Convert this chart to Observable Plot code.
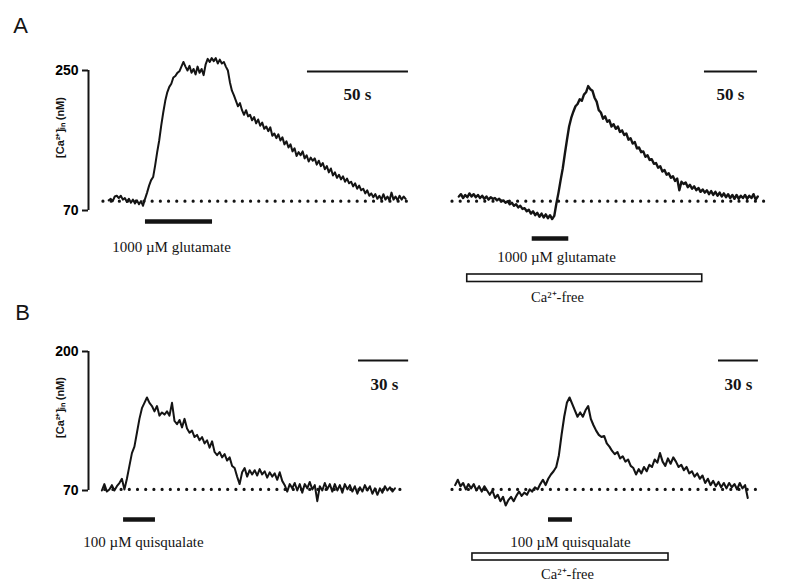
<!DOCTYPE html>
<html>
<head>
<meta charset="utf-8">
<script src="https://cdn.jsdelivr.net/npm/d3@7"></script>
<script src="https://cdn.jsdelivr.net/npm/@observablehq/plot@0.6"></script>
<style>
  html, body { margin: 0; padding: 0; background: #fff; }
  #fig { position: relative; width: 808px; height: 584px; overflow: hidden; background: #fff; }
  #fig svg { position: absolute; left: 0; top: 0; }
</style>
</head>
<body>
<div id="fig"></div>
<script>
// ---------- DATA ----------
// [Ca2+]in traces in nM, sampled from the first point every `step` seconds
const glutamateControl = [
  83,85,82,88,89,86,89,84,86,81,85,80,84,79,83,78,
  82,76,85,93,102,109,113,128,145,160,179,196,211,222,229,233,241,243,247,
  249,255,261,255,250,256,247,252,245,255,247,252,244,258,265,261,266,262,266,259,264,259,261,255,250,
  235,224,218,211,204,208,199,193,199,191,193,186,190,182,187,179,183,175,178,172,177,166,169,163,168,160,164,155,159,151,
  155,146,150,140,145,141,146,137,141,133,138,134,137,129,134,127,131,123,127,119,124,115,119,112,116,110,114,107,111,105,
  107,101,105,98,102,96,98,92,96,89,92,87,91,85,89,84,91,84,88,83,93,84,88,83,89,84,88,85
];
const glutamateCaFree = [
  88,91,86,90,87,92,88,91,87,90,86,89,85,88,84,87,85,86,83,85,82,83,80,82,78,80,76,78,74,76,
  72,73,69,71,66,69,64,67,62,66,61,65,60,64,59,
  63,79,93,109,124,143,161,178,189,197,204,207,213,211,219,222,230,226,
  224,215,210,199,196,188,191,184,186,178,181,175,178,171,173,167,169,161,163,156,
  158,150,151,145,146,139,141,135,136,130,131,125,127,120,122,
  116,118,112,114,108,111,96,107,104,106,100,103,98,101,96,99,94,97,93,96,
  91,95,90,94,89,93,88,92,87,91,86,90,85,90,85,89,86,90,85,89,86,91,84,88
];
const quisqualateControl = [
  70,76,69,71,75,70,74,77,81,71,
  81,93,105,111,124,137,147,152,157,152,
  149,144,149,140,143,141,144,140,152,135,
  132,136,129,137,128,124,126,120,122,117,
  120,114,117,110,116,106,103,106,101,104,
  98,101,93,91,83,76,87,91,83,89,
  85,89,84,90,85,88,82,87,83,86,
  80,87,79,75,69,76,72,77,70,76,
  68,76,72,78,71,75,60,74,70,77,
  71,76,69,76,70,75,68,76,71,75,
  69,74,67,73,69,75,70,74,67,72,
  66,72,68,74,70,73,69,72
];
const quisqualateCaFree = [
  75,80,74,77,71,76,72,76,70,74,
  69,74,70,66,70,63,66,60,64,56,
  61,64,60,65,69,65,68,66,71,69,
  73,71,76,80,75,81,85,88,92,103,
  122,139,152,157,151,145,139,143,139,145,
  149,137,131,126,122,120,121,114,111,107,
  104,106,100,102,97,99,93,91,85,90,
  86,92,88,94,92,99,96,105,97,93,
  100,95,101,97,92,94,89,92,86,88,
  83,86,81,84,77,81,75,79,74,78,
  73,77,72,77,73,76,71,77,72,75,
  63
];
const traceStart = [10, 6, 8, 2];          // s
const traceStep  = [1, 2, 1.5, 2];         // s
const restingLevel = [82, 82, 71, 71];     // nM (dotted line)
const dottedSpan = [[7.4, 158.4], [0, 297], [10, 191], [0, 229.3]]; // s
const agonistWindow = [[28.2, 61.4], [75.2, 109.7], [21, 40.1], [72.2, 90.2]]; // s
const caFreeWindow = [null, [13.9, 235.6], null, [15, 162.4]];              // s
const scaleBar = [[108.4, 158.4], [237.7, 287.7], [161.7, 191.7], [200, 230]]; // s
const scaleBarLabel = ["50 s", "50 s", "30 s", "30 s"];
const agonistLabel = ["1000 µM glutamate", "1000 µM glutamate", "100 µM quisqualate", "100 µM quisqualate"];
const ticksA = [70, 250];
const ticksB = [70, 200];
const yLabel = "[Ca²⁺]ᵢₙ (nM)";
const caFreeLabel = "Ca²⁺-free";
const panelLetters = ["A", "B"];

// ---------- LAYOUT ----------
const W = 808, H = 584;
const SERIF = "Liberation Serif, Times New Roman, serif";
const SANS = "Liberation Sans, Arial, sans-serif";
const INK = "#141414";

const layouts = [
  {xDomain: [0, 160], xRange: [88, 411.2], yDomain: [70, 250], yRange: [210, 70], ticks: ticksA, lw: 2,
   stimY: 221, barY: 71, barText: [357, 94], stimText: [171, 247], caY: null, caText: null,
   ylab: [60, 127], letter: [panelLetters[0], 20, 25]},
  {xDomain: [0, 300], xRange: [452, 770], yDomain: [70, 250], yRange: [210, 70], ticks: null, lw: 2.4,
   stimY: 238, barY: 71, barText: [730, 94], stimText: [556, 257], caY: [274, 281.5], caText: [557, 297]},
  {xDomain: [0, 190], xRange: [88, 405.3], yDomain: [70, 200], yRange: [490, 351], ticks: ticksB, lw: 2,
   stimY: 519, barY: 360, barText: [384, 384], stimText: [143, 542], caY: null, caText: null,
   ylab: [60, 407], letter: [panelLetters[1], 22, 312]},
  {xDomain: [0, 230], xRange: [452, 757.9], yDomain: [70, 200], yRange: [490, 351], ticks: null, lw: 2.1,
   stimY: 519, barY: 360, barText: [738, 384], stimText: [570, 542], caY: [553, 560], caText: [567, 574]}
];
const traces = [glutamateControl, glutamateCaFree, quisqualateControl, quisqualateCaFree];

const fig = document.getElementById("fig");

layouts.forEach((L, k) => {
  const ix = d3.scaleLinear(L.xRange, L.xDomain); // page px -> s (annotation placement)
  const iy = d3.scaleLinear(L.yRange, L.yDomain); // page px -> nM (annotation placement)
  const series = traces[k].map((v, i) => ({t: traceStart[k] + i * traceStep[k], v}));
  const marks = [];

  marks.push(Plot.ruleY([{y: restingLevel[k], x1: dottedSpan[k][0], x2: dottedSpan[k][1]}],
    {y: "y", x1: "x1", x2: "x2", stroke: INK, strokeWidth: 3.2, strokeDasharray: "0 8.2", strokeLinecap: "round"}));

  marks.push(Plot.line(series, {x: "t", y: "v", stroke: INK, strokeWidth: L.lw, strokeLinejoin: "round"}));

  marks.push(Plot.ruleY([{y: iy(L.stimY), x1: agonistWindow[k][0], x2: agonistWindow[k][1]}],
    {y: "y", x1: "x1", x2: "x2", stroke: INK, strokeWidth: 4.5}));

  if (caFreeWindow[k]) {
    marks.push(Plot.rect([{x1: caFreeWindow[k][0], x2: caFreeWindow[k][1], y1: iy(L.caY[0]), y2: iy(L.caY[1])}],
      {x1: "x1", x2: "x2", y1: "y1", y2: "y2", fill: "white", stroke: INK, strokeWidth: 1.6}));
    marks.push(Plot.text([caFreeLabel], {x: ix(L.caText[0]), y: iy(L.caText[1]), text: d => d,
      fontFamily: SERIF, fontSize: 14.5, textAnchor: "middle", lineAnchor: "middle", fill: INK}));
  }

  marks.push(Plot.ruleY([{y: iy(L.barY), x1: scaleBar[k][0], x2: scaleBar[k][1]}],
    {y: "y", x1: "x1", x2: "x2", stroke: INK, strokeWidth: 2}));
  marks.push(Plot.text([scaleBarLabel[k]], {x: ix(L.barText[0]), y: iy(L.barText[1]), text: d => d,
    fontFamily: SERIF, fontSize: 17, fontWeight: "bold", textAnchor: "middle", lineAnchor: "middle", fill: INK}));

  marks.push(Plot.text([agonistLabel[k]], {x: ix(L.stimText[0]), y: iy(L.stimText[1]), text: d => d,
    fontFamily: SERIF, fontSize: 15, textAnchor: "middle", lineAnchor: "middle", fill: INK}));

  if (L.ticks) {
    marks.push(Plot.ruleX([{x: 0, y1: L.ticks[0], y2: L.ticks[1]}], {x: "x", y1: "y1", y2: "y2", stroke: INK, strokeWidth: 2}));
    marks.push(Plot.axisY(L.ticks, {anchor: "left", tickSize: 6, tickPadding: 4, strokeWidth: 2, stroke: INK,
      fontSize: 14, fontWeight: "bold", fontFamily: SANS, label: null, tickFormat: d => String(d)}));
    marks.push(Plot.text([yLabel], {x: ix(L.ylab[0]), y: iy(L.ylab[1]), text: d => d, rotate: -90,
      fontFamily: SANS, fontSize: 11, fontWeight: "bold", textAnchor: "middle", lineAnchor: "middle", fill: INK}));
    marks.push(Plot.text([L.letter[0]], {x: ix(L.letter[1]), y: iy(L.letter[2]), text: d => d,
      fontFamily: SANS, fontSize: 22, textAnchor: "middle", lineAnchor: "middle", fill: INK}));
  }

  const svg = Plot.plot({
    width: W, height: H,
    marginLeft: 88, marginRight: 0, marginTop: 0, marginBottom: 0,
    x: {domain: L.xDomain, range: L.xRange, axis: null},
    y: L.ticks ? {domain: L.yDomain, range: L.yRange, label: null}
               : {domain: L.yDomain, range: L.yRange, axis: null},
    style: {background: "transparent", overflow: "visible", fontFamily: SANS},
    marks
  });
  fig.appendChild(svg);
});
</script>
</body>
</html>
